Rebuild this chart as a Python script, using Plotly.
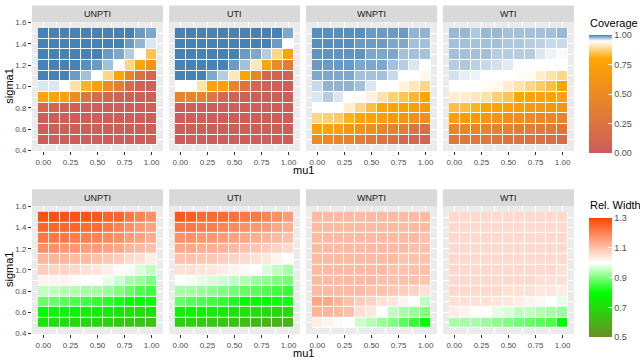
import plotly.graph_objects as go

# ---------------- data ----------------
mu1 = [0.0, 0.1, 0.2, 0.3, 0.4, 0.5, 0.6, 0.7, 0.8, 0.9, 1.0]
sigma1 = [0.5, 0.6, 0.7, 0.8, 0.9, 1.0, 1.1, 1.2, 1.3, 1.4, 1.5]
methods = ["UNPTI", "UTI", "WNPTI", "WTI"]

x_tickvals = [0.0, 0.25, 0.5, 0.75, 1.0]
x_ticktext = ["0.00", "0.25", "0.50", "0.75", "1.00"]
y_tickvals = [0.4, 0.6, 0.8, 1.0, 1.2, 1.4, 1.6]
y_ticktext = ["0.4", "0.6", "0.8", "1.0", "1.2", "1.4", "1.6"]
cov_tickvals = [0.0, 0.25, 0.5, 0.75, 1.0]
cov_ticktext = ["0.00", "0.25", "0.50", "0.75", "1.00"]
wid_tickvals = [0.5, 0.7, 0.9, 1.1, 1.3]
wid_ticktext = ["0.5", "0.7", "0.9", "1.1", "1.3"]

# Coverage, rows ordered by sigma1 (0.5 -> 1.5), columns by mu1 (0 -> 1)
coverage_unpti = [
    [0.02, 0.02, 0.02, 0.02, 0.02, 0.02, 0.02, 0.02, 0.02, 0.02, 0.02],
    [0.02, 0.02, 0.02, 0.02, 0.02, 0.02, 0.02, 0.02, 0.02, 0.02, 0.02],
    [0.02, 0.02, 0.02, 0.02, 0.02, 0.02, 0.02, 0.02, 0.02, 0.02, 0.02],
    [0.12, 0.10, 0.06, 0.04, 0.03, 0.02, 0.02, 0.02, 0.02, 0.02, 0.02],
    [0.78, 0.78, 0.76, 0.50, 0.30, 0.15, 0.10, 0.05, 0.03, 0.02, 0.02],
    [0.96, 0.96, 0.95, 0.90, 0.82, 0.75, 0.50, 0.35, 0.15, 0.05, 0.03],
    [1.00, 1.00, 1.00, 0.99, 0.975, 0.95, 0.88, 0.78, 0.45, 0.20, 0.10],
    [1.00, 1.00, 1.00, 1.00, 0.995, 0.99, 0.975, 0.95, 0.88, 0.80, 0.60],
    [1.00, 1.00, 1.00, 1.00, 1.00, 1.00, 0.99, 0.985, 0.97, 0.95, 0.85],
    [1.00, 1.00, 1.00, 1.00, 1.00, 1.00, 1.00, 1.00, 0.99, 0.98, 0.96],
    [1.00, 1.00, 1.00, 1.00, 1.00, 1.00, 1.00, 1.00, 1.00, 0.99, 0.985],
]
coverage_uti = [
    [0.02, 0.02, 0.02, 0.02, 0.02, 0.02, 0.02, 0.02, 0.02, 0.02, 0.02],
    [0.02, 0.02, 0.02, 0.02, 0.02, 0.02, 0.02, 0.02, 0.02, 0.02, 0.02],
    [0.02, 0.02, 0.02, 0.02, 0.02, 0.02, 0.02, 0.02, 0.02, 0.02, 0.02],
    [0.02, 0.02, 0.02, 0.02, 0.02, 0.02, 0.02, 0.02, 0.02, 0.02, 0.02],
    [0.45, 0.45, 0.42, 0.30, 0.12, 0.05, 0.03, 0.02, 0.02, 0.02, 0.02],
    [0.95, 0.95, 0.90, 0.80, 0.75, 0.45, 0.25, 0.10, 0.05, 0.03, 0.02],
    [1.00, 1.00, 1.00, 0.985, 0.97, 0.91, 0.79, 0.45, 0.12, 0.08, 0.05],
    [1.00, 1.00, 1.00, 1.00, 1.00, 0.99, 0.975, 0.91, 0.80, 0.50, 0.35],
    [1.00, 1.00, 1.00, 1.00, 1.00, 1.00, 0.99, 0.985, 0.97, 0.88, 0.78],
    [1.00, 1.00, 1.00, 1.00, 1.00, 1.00, 1.00, 1.00, 1.00, 0.99, 0.95],
    [1.00, 1.00, 1.00, 1.00, 1.00, 1.00, 1.00, 1.00, 1.00, 1.00, 0.985],
]
coverage_wnpti = [
    [0.50, 0.48, 0.45, 0.40, 0.35, 0.30, 0.25, 0.20, 0.12, 0.10, 0.08],
    [0.78, 0.76, 0.72, 0.65, 0.60, 0.55, 0.45, 0.40, 0.35, 0.25, 0.20],
    [0.88, 0.87, 0.86, 0.82, 0.79, 0.76, 0.72, 0.68, 0.62, 0.58, 0.55],
    [0.95, 0.95, 0.95, 0.92, 0.88, 0.84, 0.80, 0.78, 0.75, 0.72, 0.70],
    [0.96, 0.97, 0.96, 0.95, 0.95, 0.93, 0.90, 0.87, 0.85, 0.83, 0.80],
    [0.965, 0.98, 0.98, 0.98, 0.975, 0.96, 0.95, 0.95, 0.93, 0.91, 0.88],
    [0.985, 0.985, 0.985, 0.985, 0.975, 0.975, 0.975, 0.965, 0.95, 0.95, 0.94],
    [0.99, 0.99, 0.99, 0.99, 0.985, 0.985, 0.985, 0.975, 0.97, 0.96, 0.95],
    [0.993, 0.993, 0.993, 0.993, 0.993, 0.985, 0.985, 0.985, 0.975, 0.975, 0.975],
    [0.995, 0.995, 0.995, 0.995, 0.99, 0.99, 0.99, 0.985, 0.985, 0.975, 0.975],
    [0.995, 0.995, 0.995, 0.995, 0.995, 0.99, 0.99, 0.99, 0.99, 0.98, 0.98],
]
coverage_wti = [
    [0.30, 0.30, 0.29, 0.28, 0.27, 0.26, 0.25, 0.23, 0.21, 0.19, 0.18],
    [0.48, 0.47, 0.45, 0.43, 0.42, 0.40, 0.38, 0.36, 0.34, 0.32, 0.30],
    [0.72, 0.70, 0.66, 0.62, 0.60, 0.56, 0.53, 0.50, 0.48, 0.46, 0.45],
    [0.84, 0.84, 0.82, 0.79, 0.76, 0.74, 0.70, 0.68, 0.66, 0.64, 0.62],
    [0.92, 0.92, 0.91, 0.90, 0.87, 0.85, 0.80, 0.78, 0.78, 0.77, 0.76],
    [0.95, 0.95, 0.95, 0.945, 0.94, 0.92, 0.90, 0.88, 0.86, 0.84, 0.80],
    [0.962, 0.957, 0.955, 0.95, 0.95, 0.95, 0.945, 0.94, 0.92, 0.90, 0.88],
    [0.97, 0.972, 0.968, 0.965, 0.962, 0.958, 0.95, 0.95, 0.95, 0.95, 0.95],
    [0.975, 0.975, 0.975, 0.975, 0.97, 0.97, 0.97, 0.97, 0.96, 0.955, 0.952],
    [0.975, 0.975, 0.975, 0.975, 0.975, 0.972, 0.972, 0.97, 0.968, 0.965, 0.965],
    [0.978, 0.978, 0.972, 0.978, 0.978, 0.975, 0.975, 0.975, 0.975, 0.975, 0.978],
]

# Relative width, rows ordered by sigma1 (0.5 -> 1.5), columns by mu1 (0 -> 1)
width_unpti = [
    [0.73, 0.72, 0.71, 0.70, 0.70, 0.69, 0.68, 0.67, 0.66, 0.65, 0.64],
    [0.80, 0.79, 0.79, 0.78, 0.77, 0.76, 0.75, 0.74, 0.73, 0.72, 0.72],
    [0.88, 0.88, 0.87, 0.86, 0.85, 0.84, 0.83, 0.82, 0.80, 0.80, 0.81],
    [0.95, 0.95, 0.94, 0.94, 0.93, 0.93, 0.92, 0.90, 0.88, 0.86, 0.85],
    [1.02, 1.02, 1.02, 1.01, 1.00, 1.00, 0.98, 0.96, 0.93, 0.92, 0.90],
    [1.08, 1.07, 1.07, 1.06, 1.05, 1.04, 1.03, 1.01, 0.99, 0.97, 0.95],
    [1.12, 1.12, 1.12, 1.11, 1.11, 1.10, 1.09, 1.08, 1.06, 1.05, 1.03],
    [1.18, 1.18, 1.17, 1.17, 1.16, 1.16, 1.15, 1.14, 1.12, 1.11, 1.10],
    [1.22, 1.22, 1.22, 1.21, 1.21, 1.20, 1.19, 1.18, 1.16, 1.15, 1.13],
    [1.25, 1.25, 1.25, 1.25, 1.24, 1.24, 1.22, 1.20, 1.18, 1.16, 1.15],
    [1.28, 1.28, 1.28, 1.28, 1.28, 1.27, 1.25, 1.25, 1.22, 1.20, 1.18],
]
width_uti = [
    [0.68, 0.68, 0.67, 0.66, 0.65, 0.64, 0.63, 0.62, 0.61, 0.60, 0.60],
    [0.78, 0.78, 0.77, 0.76, 0.75, 0.74, 0.73, 0.72, 0.71, 0.70, 0.70],
    [0.88, 0.87, 0.86, 0.85, 0.84, 0.82, 0.80, 0.79, 0.80, 0.81, 0.81],
    [0.93, 0.93, 0.92, 0.91, 0.90, 0.89, 0.88, 0.87, 0.86, 0.85, 0.84],
    [1.00, 0.99, 0.98, 0.97, 0.96, 0.95, 0.94, 0.92, 0.91, 0.90, 0.89],
    [1.05, 1.05, 1.04, 1.04, 1.03, 1.02, 1.01, 1.00, 0.97, 0.95, 0.93],
    [1.10, 1.10, 1.09, 1.09, 1.08, 1.07, 1.06, 1.05, 1.04, 1.02, 1.00],
    [1.14, 1.14, 1.13, 1.13, 1.12, 1.11, 1.10, 1.09, 1.08, 1.07, 1.06],
    [1.18, 1.18, 1.17, 1.17, 1.16, 1.15, 1.14, 1.13, 1.12, 1.11, 1.10],
    [1.22, 1.22, 1.21, 1.21, 1.20, 1.19, 1.18, 1.17, 1.16, 1.14, 1.13],
    [1.27, 1.26, 1.24, 1.24, 1.24, 1.23, 1.22, 1.22, 1.20, 1.18, 1.16],
]
width_wnpti = [
    [1.03, 1.02, 1.01, 1.00, 0.96, 0.94, 0.92, 0.90, 0.87, 0.84, 0.80],
    [1.12, 1.12, 1.11, 1.10, 1.05, 1.04, 1.00, 0.95, 0.93, 0.92, 0.90],
    [1.14, 1.14, 1.12, 1.10, 1.08, 1.07, 1.05, 1.04, 1.02, 1.00, 0.95],
    [1.11, 1.11, 1.11, 1.11, 1.11, 1.10, 1.10, 1.09, 1.08, 1.07, 1.05],
    [1.11, 1.11, 1.11, 1.11, 1.11, 1.11, 1.10, 1.10, 1.10, 1.10, 1.09],
    [1.11, 1.11, 1.11, 1.11, 1.11, 1.11, 1.11, 1.10, 1.10, 1.10, 1.10],
    [1.11, 1.11, 1.11, 1.11, 1.11, 1.11, 1.11, 1.11, 1.10, 1.10, 1.10],
    [1.11, 1.11, 1.11, 1.11, 1.11, 1.11, 1.11, 1.11, 1.11, 1.10, 1.10],
    [1.11, 1.11, 1.11, 1.11, 1.11, 1.11, 1.11, 1.11, 1.11, 1.11, 1.10],
    [1.11, 1.11, 1.11, 1.11, 1.11, 1.11, 1.11, 1.11, 1.11, 1.11, 1.11],
    [1.11, 1.11, 1.11, 1.11, 1.11, 1.11, 1.11, 1.11, 1.11, 1.11, 1.11],
]
width_wti = [
    [0.93, 0.93, 0.93, 0.92, 0.91, 0.90, 0.89, 0.88, 0.87, 0.86, 0.80],
    [1.03, 1.02, 1.00, 1.00, 0.98, 0.97, 0.95, 0.95, 0.94, 0.93, 0.92],
    [1.05, 1.05, 1.05, 1.05, 1.04, 1.04, 1.03, 1.02, 1.01, 1.00, 0.98],
    [1.06, 1.06, 1.06, 1.06, 1.06, 1.05, 1.05, 1.05, 1.04, 1.04, 1.03],
    [1.06, 1.06, 1.06, 1.06, 1.06, 1.06, 1.06, 1.06, 1.05, 1.05, 1.05],
    [1.06, 1.06, 1.06, 1.06, 1.06, 1.06, 1.06, 1.06, 1.06, 1.06, 1.05],
    [1.06, 1.06, 1.06, 1.06, 1.06, 1.06, 1.06, 1.06, 1.06, 1.06, 1.06],
    [1.06, 1.06, 1.06, 1.06, 1.06, 1.06, 1.06, 1.06, 1.06, 1.06, 1.06],
    [1.06, 1.06, 1.06, 1.06, 1.06, 1.06, 1.06, 1.06, 1.06, 1.06, 1.06],
    [1.06, 1.06, 1.06, 1.06, 1.06, 1.06, 1.06, 1.06, 1.06, 1.06, 1.06],
    [1.06, 1.06, 1.06, 1.06, 1.06, 1.06, 1.06, 1.06, 1.06, 1.06, 1.06],
]

coverage_data = [coverage_unpti, coverage_uti, coverage_wnpti, coverage_wti]
width_data = [width_unpti, width_uti, width_wnpti, width_wti]

# ---------------- layout geometry (pixels) ----------------
W, H = 640, 362
FONT = "Liberation Sans, Arial, sans-serif"
panel_x0 = [32, 169, 306, 443]
panel_w = 131
row_y = [(18.5, 150.5), (206.5, 337.5)]   # (top, bottom)
strip_y = [(1.5, 18.5), (189.5, 206.5)]

def px(xp):
    return xp / W

def py(yp):
    return 1 - yp / H

cov_scale = [[0.0, "#CD5C5C"], [0.8, "#FFA500"], [0.95, "#FFFFFF"], [1.0, "#4682B4"]]
wid_scale = [[0.0, "#6B8E23"], [0.375, "#00FF00"], [0.625, "#FFFFFF"], [1.0, "#FF4500"]]

fig = go.Figure()
layout = dict(
    width=W, height=H,
    margin=dict(l=0, r=0, t=0, b=0),
    paper_bgcolor="white",
    plot_bgcolor="#EBEBEB",
    font=dict(family=FONT, color="#4D4D4D"),
    showlegend=False,
    shapes=[], annotations=[],
)

rows = [coverage_data, width_data]
for r, data in enumerate(rows):
    top, bot = row_y[r]
    for c, m in enumerate(methods):
        k = r * 4 + c + 1
        xa = "x" if k == 1 else f"x{k}"
        ya = "y" if k == 1 else f"y{k}"
        # white underlay so that tile gaps look like white tile borders
        fig.add_trace(go.Heatmap(
            x=mu1, y=sigma1, z=[[0 for _ in mu1] for _ in sigma1],
            colorscale=[[0, "white"], [1, "white"]], showscale=False,
            hoverinfo="skip", xaxis=xa, yaxis=ya))
        fig.add_trace(go.Heatmap(
            x=mu1, y=sigma1, z=data[c], xgap=1, ygap=1,
            coloraxis="coloraxis" if r == 0 else "coloraxis2",
            xaxis=xa, yaxis=ya))
        x0 = panel_x0[c]
        layout["xaxis" if k == 1 else f"xaxis{k}"] = dict(
            domain=[px(x0), px(x0 + panel_w)], anchor=ya,
            range=[-0.105, 1.105], tickvals=x_tickvals, ticktext=x_ticktext,
            ticks="outside", ticklen=3, tickcolor="#333333", tickwidth=1,
            tickfont=dict(size=8, color="#4D4D4D"),
            showgrid=True, gridcolor="white", gridwidth=1,
            minor=dict(tickvals=[0.125, 0.375, 0.625, 0.875], showgrid=True,
                       gridcolor="white", gridwidth=0.5, ticks=""),
            zeroline=False, showline=False, fixedrange=True,
        )
        layout["yaxis" if k == 1 else f"yaxis{k}"] = dict(
            domain=[py(bot), py(top)], anchor=xa,
            range=[0.395, 1.605], tickvals=y_tickvals, ticktext=y_ticktext,
            showticklabels=(c == 0),
            ticks="outside" if c == 0 else "", ticklen=3, tickcolor="#333333", tickwidth=1,
            tickfont=dict(size=8, color="#4D4D4D"),
            showgrid=True, gridcolor="white", gridwidth=1,
            minor=dict(tickvals=[0.5, 0.7, 0.9, 1.1, 1.3, 1.5], showgrid=True,
                       gridcolor="white", gridwidth=0.5, ticks=""),
            zeroline=False, showline=False, fixedrange=True,
        )
        # facet strip
        sy0, sy1 = strip_y[r]
        layout["shapes"].append(dict(
            type="rect", xref="paper", yref="paper",
            x0=px(x0), x1=px(x0 + panel_w), y0=py(sy1), y1=py(sy0),
            fillcolor="#D9D9D9", line=dict(width=0), layer="below"))
        layout["annotations"].append(dict(
            text=m, xref="paper", yref="paper",
            x=px(x0 + panel_w / 2), y=py((sy0 + sy1) / 2),
            xanchor="center", yanchor="middle", showarrow=False,
            font=dict(size=9, color="#1A1A1A", family=FONT)))
    # axis titles
    layout["annotations"].append(dict(
        text="sigma1", xref="paper", yref="paper", x=px(9), y=py((top + bot) / 2),
        textangle=-90, xanchor="center", yanchor="middle", showarrow=False,
        font=dict(size=11, color="black", family=FONT)))
    layout["annotations"].append(dict(
        text="mu1", xref="paper", yref="paper",
        x=px((panel_x0[0] + panel_x0[3] + panel_w) / 2), y=py(bot + 19),
        xanchor="center", yanchor="middle", showarrow=False,
        font=dict(size=11, color="black", family=FONT)))

# legend titles
layout["annotations"].append(dict(
    text="Coverage", xref="paper", yref="paper", x=px(588), y=py(19),
    xanchor="left", yanchor="middle", showarrow=False,
    font=dict(size=11, color="black", family=FONT)))
layout["annotations"].append(dict(
    text="Rel. Width", xref="paper", yref="paper", x=px(588), y=py(206),
    xanchor="left", yanchor="middle", showarrow=False,
    font=dict(size=11, color="black", family=FONT)))

cb_common = dict(
    xanchor="left", yanchor="top", lenmode="pixels", thickness=23,
    thicknessmode="pixels", xpad=0, ypad=0, outlinewidth=0,
    ticks="inside", ticklen=4, tickcolor="white", tickwidth=1,
    tickfont=dict(size=9, color="#4D4D4D", family=FONT),
)
layout["coloraxis"] = dict(
    cmin=0, cmax=1, colorscale=cov_scale,
    colorbar=dict(cb_common, x=px(589), y=py(32), len=118,
                  tickvals=cov_tickvals, ticktext=cov_ticktext))
layout["coloraxis2"] = dict(
    cmin=0.5, cmax=1.3, colorscale=wid_scale,
    colorbar=dict(cb_common, x=px(589), y=py(219), len=119,
                  tickvals=wid_tickvals, ticktext=wid_ticktext))

fig.update_layout(**layout)
fig.write_html(
    "out.html",
    config={"displayModeBar": False},
    post_script="document.body.style.margin='0';document.body.style.overflow='hidden';",
)
